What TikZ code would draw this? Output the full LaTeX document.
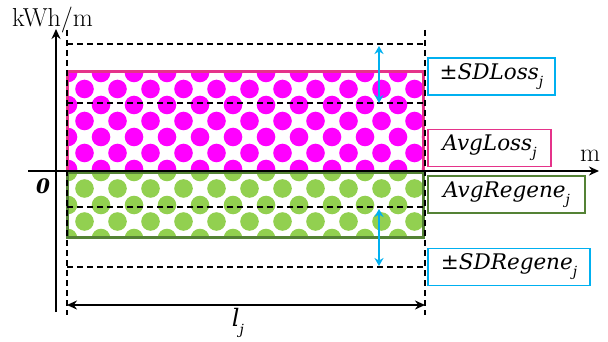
\documentclass[tikz,border=0pt]{standalone}
\usepackage{fontspec}
\newfontfamily\labfont{DejaVu Serif}
\usetikzlibrary{arrows.meta}
\definecolor{pinkb}{HTML}{E5338A}
\definecolor{magf}{HTML}{FF00FF}
\definecolor{grnf}{HTML}{92D050}
\definecolor{grnb}{HTML}{548235}
\definecolor{bluel}{HTML}{00B0F0}
\newcommand{\sublab}[2]{{\labfont\itshape #1}\raisebox{-0.32em}{\fontsize{14}{14}\selectfont\labfont\itshape #2}}
\tikzset{
  dashln/.style={black, line width=1.3pt, dash pattern=on 6pt off 4pt},
  axisln/.style={black, line width=2.4pt, -{Stealth[length=10pt,width=9pt]}},
  sdarrow/.style={bluel, line width=2pt, {Stealth[length=8pt,width=9pt]}-{Stealth[length=8pt,width=9pt]}},
  dimarrow/.style={black, line width=2.2pt, {Stealth[length=10pt,width=9pt]}-{Stealth[length=10pt,width=9pt]}},
  labbox/.style={draw, line width=1.8pt, minimum height=37pt, inner sep=0pt, text=black, font=\fontsize{21.5}{24}\selectfont},
  axlab/.style={font=\fontsize{26}{28}\selectfont, inner sep=0pt},
}
\begin{document}
\begin{tikzpicture}[x=1pt,y=-1pt]
\useasboundingbox (0,0) rectangle (608,342);
% magenta dotted band
\begin{scope}
  \clip (67,72) rectangle (423,171);
  \foreach \k in {0,...,6}{
    \pgfmathsetmacro{\yy}{73+16*\k}
    \pgfmathsetmacro{\xo}{mod(\k,2)==0 ? 68 : 84.5}
    \foreach \m in {0,...,11}{\fill[magf] ({\xo+33*\m},\yy) circle (9.3pt);}
  }
\end{scope}
% green dotted band
\begin{scope}
  \clip (67,172) rectangle (423,237);
  \foreach \k in {0,...,4}{
    \pgfmathsetmacro{\yy}{172+16.5*\k}
    \pgfmathsetmacro{\xo}{mod(\k,2)==0 ? 68 : 84.5}
    \foreach \m in {0,...,11}{\fill[grnf] ({\xo+33*\m},\yy) circle (9.3pt);}
  }
\end{scope}
% borders
\draw[pinkb, line width=3pt] (67,171) -- (67,72) -- (423,72) -- (423,171);
\draw[grnb, line width=3pt] (67,173) rectangle (423,237);
% coordinates
\coordinate (ytail) at (56,312);
\coordinate (yhead) at (56,29);
\coordinate (xtail) at (28,171);
\coordinate (xhead) at (599,171);
\coordinate (lt) at (67,30);  \coordinate (lb) at (67,315);
\coordinate (rt) at (425,30); \coordinate (rb) at (425,315);
\coordinate (h1a) at (67,44);  \coordinate (h1b) at (425,44);
\coordinate (h2a) at (67,103); \coordinate (h2b) at (423,103);
\coordinate (h3a) at (67,207); \coordinate (h3b) at (423,207);
\coordinate (h4a) at (67,267); \coordinate (h4b) at (425,267);
\coordinate (u1) at (379,46);  \coordinate (u2) at (379,103);
\coordinate (d1) at (379,209); \coordinate (d2) at (379,266);
\coordinate (dl) at (67,305);  \coordinate (dr) at (425,305);
% dashed lines
\draw[dashln] (lt) -- (lb);
\draw[dashln] (rt) -- (rb);
\draw[dashln] (h1a) -- (h1b);
\draw[dashln] (h2a) -- (h2b);
\draw[dashln] (h3a) -- (h3b);
\draw[dashln] (h4a) -- (h4b);
% axes
\draw[axisln] (ytail) -- (yhead);
\draw[axisln] (xtail) -- (xhead);
% SD arrows
\draw[sdarrow] (u1) -- (u2);
\draw[sdarrow] (d1) -- (d2);
% length arrow
\draw[dimarrow] (dl) -- (dr);
% labels
\node[axlab, anchor=base west] (ylab) at (12,27) {kWh/m};
\node[axlab, anchor=base west] (xlab) at (580,162) {m};
\node[font=\fontsize{20}{22}\selectfont\labfont\bfseries\itshape, inner sep=0pt] (orig) at (43,186) {0};
\node[font=\fontsize{24}{26}\selectfont, inner sep=0pt] (lj) at (238,323) {\sublab{l}{j}};
\node[labbox, draw=bluel, minimum width=127pt] (sdl) at (491.5,76.5) {{\labfont ±}\sublab{SDLoss}{j}};
\node[labbox, draw=pinkb, minimum width=123pt] (avl) at (489.5,148) {\sublab{AvgLoss}{j}};
\node[labbox, draw=grnb, minimum width=157pt] (avr) at (506.5,194.5) {\sublab{AvgRegene}{j}};
\node[labbox, draw=bluel, minimum width=162pt] (sdr) at (509,267) {{\labfont ±}\sublab{SDRegene}{j}};
\end{tikzpicture}
\end{document}
